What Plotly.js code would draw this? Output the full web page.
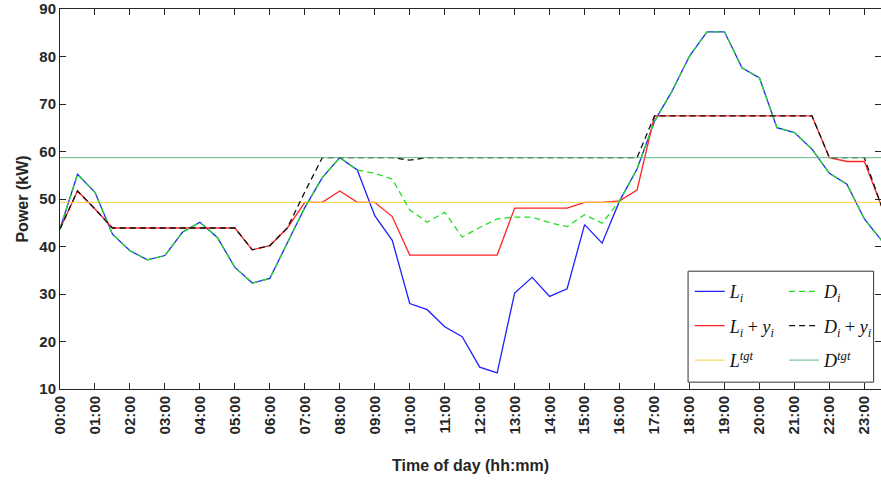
<!DOCTYPE html>
<html>
<head>
<meta charset="utf-8">
<script src="https://cdn.plot.ly/plotly-3.0.1.min.js"></script>
<style>html,body{margin:0;padding:0;background:#fff;}#chart{width:881px;height:481px;}</style>
</head>
<body>
<div id="chart"></div>
<script>
var times = ["00:00","00:30","01:00","01:30","02:00","02:30","03:00","03:30","04:00","04:30",
  "05:00","05:30","06:00","06:30","07:00","07:30","08:00","08:30","09:00","09:30",
  "10:00","10:30","11:00","11:30","12:00","12:30","13:00","13:30","14:00","14:30",
  "15:00","15:30","16:00","16:30","17:00","17:30","18:00","18:30","19:00","19:30",
  "20:00","20:30","21:00","21:30","22:00","22:30","23:00","23:30"];
var hourTicks = ["00:00","01:00","02:00","03:00","04:00","05:00","06:00","07:00","08:00","09:00",
  "10:00","11:00","12:00","13:00","14:00","15:00","16:00","17:00","18:00","19:00",
  "20:00","21:00","22:00","23:00"];
var yTicks = [10, 20, 30, 40, 50, 60, 70, 80, 90];

var L_i = [43.7,55.2,51.4,42.6,39.1,37.2,38.1,43.0,45.1,41.9,
  35.6,32.3,33.3,40.7,48.2,54.5,58.7,56.1,46.5,41.3,
  28.0,26.7,23.1,21.0,14.6,13.4,30.2,33.5,29.5,31.1,
  44.6,40.7,49.6,56.3,66.4,72.7,80.1,85.2,85.2,77.6,
  75.5,65.0,64.0,60.5,55.4,53.1,45.8,41.2];
var D_i = [43.7,55.2,51.4,42.6,39.1,37.2,38.1,43.0,45.1,41.9,
  35.6,32.3,33.3,40.7,48.2,54.5,58.7,56.1,55.4,54.2,
  47.7,45.1,47.2,42.0,44.0,45.8,46.2,46.2,45.0,44.2,
  46.7,44.9,49.6,56.3,66.4,72.7,80.1,85.2,85.2,77.6,
  75.5,65.0,64.0,60.5,55.4,53.1,45.8,41.2];
var L_y = [43.7,51.7,47.9,43.9,43.9,43.9,43.9,43.9,43.9,43.9,
  43.9,39.3,40.2,43.9,49.3,49.3,51.7,49.3,49.3,46.3,
  38.2,38.2,38.2,38.2,38.2,38.2,48.1,48.1,48.1,48.1,
  49.3,49.3,49.6,51.9,67.5,67.5,67.5,67.5,67.5,67.5,
  67.5,67.5,67.5,67.5,58.7,57.9,57.9,48.3];
var D_y = [43.7,51.7,47.9,43.9,43.9,43.9,43.9,43.9,43.9,43.9,
  43.9,39.3,40.2,43.9,51.5,58.7,58.7,58.7,58.7,58.7,
  58.2,58.7,58.7,58.7,58.7,58.7,58.7,58.7,58.7,58.7,
  58.7,58.7,58.7,58.7,67.5,67.5,67.5,67.5,67.5,67.5,
  67.5,67.5,67.5,67.5,58.7,58.7,58.7,48.3];
var L_tgt = [49.3, 49.3];
var D_tgt = [58.7, 58.7];
var tgtX = [times[0], times[times.length - 1]];

var lw = 1.3;
var dashStyle = "6px,4px";
var traces = [
  {x: times, y: L_i, name: "<i>L</i><sub><i>i</i></sub>", line: {color: "#2020ff", width: lw}, legend: "legend", legendgroup: "a"},
  {x: times, y: L_y, name: "<i>L</i><sub><i>i</i></sub> + <i>y</i><sub><i>i</i></sub>", line: {color: "#ff2424", width: lw}, legend: "legend", legendgroup: "b"},
  {x: tgtX, y: L_tgt, name: "<i>L</i><sup><i>tgt</i></sup>", line: {color: "#f7d040", width: 1}, legend: "legend", legendgroup: "c"},
  {x: times, y: D_i, name: "<i>D</i><sub><i>i</i></sub>", line: {color: "#22dd22", width: lw, dash: dashStyle}, legend: "legend2", legendgroup: "d"},
  {x: times, y: D_y, name: "<i>D</i><sub><i>i</i></sub> + <i>y</i><sub><i>i</i></sub>", line: {color: "#111111", width: lw, dash: dashStyle}, legend: "legend2", legendgroup: "e"},
  {x: tgtX, y: D_tgt, name: "<i>D</i><sup><i>tgt</i></sup>", line: {color: "#62b880", width: 1}, legend: "legend2", legendgroup: "f"}
];
traces.forEach(function(t){ t.type = "scatter"; t.mode = "lines"; t.hoverinfo = "skip"; });

var axisFont = {family: "Arial, 'Liberation Sans', sans-serif", size: 15, color: "#262626", weight: "bold"};
var titleFont = {family: "Arial, 'Liberation Sans', sans-serif", size: 16, color: "#262626", weight: "bold"};
var legFont = {family: "'Liberation Serif', 'Times New Roman', serif", size: 18, color: "#111"};
var legCommon = {font: legFont, bgcolor: "rgba(0,0,0,0)", borderwidth: 0, tracegroupgap: 8,
  xanchor: "left", yanchor: "top", itemwidth: 30};

var layout = {
  width: 881, height: 481,
  margin: {l: 60, r: 0, t: 9, b: 92},
  paper_bgcolor: "#fff", plot_bgcolor: "#fff",
  showlegend: true,
  xaxis: {
    type: "category", categoryorder: "array", categoryarray: times,
    range: [0, 46.95],
    tickmode: "array", tickvals: hourTicks, ticktext: hourTicks,
    tickangle: -90, ticks: "inside", ticklen: 6, tickcolor: "#262626",
    showline: true, linecolor: "#262626", linewidth: 1, mirror: "ticks",
    showgrid: false, zeroline: false,
    tickfont: axisFont,
    title: {text: "Time of day (hh:mm)", font: titleFont, standoff: 26}
  },
  yaxis: {
    range: [10, 90],
    tickmode: "array", tickvals: yTicks, ticktext: yTicks.map(String),
    ticks: "inside", ticklen: 6, tickcolor: "#262626",
    showline: true, linecolor: "#262626", linewidth: 1, mirror: "ticks",
    showgrid: false, zeroline: false,
    tickfont: axisFont,
    title: {text: "Power (kW)", font: titleFont, standoff: 6}
  },
  legend: Object.assign({x: 0.767, y: 0.305}, legCommon),
  legend2: Object.assign({x: 0.882, y: 0.305}, legCommon),
  shapes: [{type: "rect", xref: "paper", yref: "paper", x0: 0.765, x1: 0.991, y0: 0.018, y1: 0.31,
    line: {color: "#333", width: 1}, fillcolor: "#fff", layer: "below"}]
};

Plotly.newPlot("chart", traces, layout, {staticPlot: true, displayModeBar: false});
</script>
</body>
</html>
